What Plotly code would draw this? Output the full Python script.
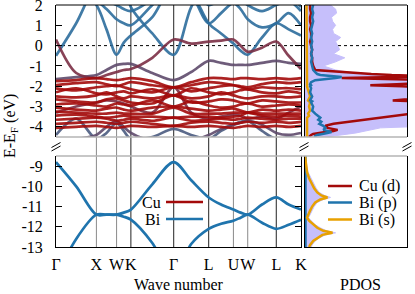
import plotly.graph_objects as go

# ---------------- data ----------------
K_LABELS = ["Γ", "X", "W", "K", "Γ", "L", "U", "W", "L", "K"]
K_TICKS = [0.0, 1.0, 1.5, 1.854, 2.914, 3.780, 4.392, 4.746, 5.453, 6.065]
K_LINE_STYLE = ["axis", "gray", "gray", "black", "black", "black", "gray", "gray", "black", "axis"]
K_PATH = [0.0, 0.5, 1.0, 1.25, 1.5, 1.677, 1.854, 2.384, 2.914, 3.347,
          3.780, 4.086, 4.392, 4.569, 4.746, 5.100, 5.453, 5.759, 6.065]

# upper energy window bands (eV)
BAND_BLUE_A = [-0.5, 1.1, 3.0, 3.2, 3.4, 3.2, 1.9, 0.6, -0.45, 1.9, 3.2, 3.4, 3.5, 3.5, 3.4, 3.3, 3.2, 2.6, 1.9]
BAND_BLUE_B = [3.4, 3.0, 2.0, 0.8, -0.45, 0.15, 0.5, 1.4, 3.0, 2.6, 1.1, 0.6, 0.1, -0.25, -0.45, 0.4, 1.1, 0.8, 0.5]
BAND_BLUE_C = [3.0, 2.5, 2.2, 1.8, 1.3, 1.1, 1.0, 2.0, 3.0, 2.5, 1.1, 1.6, 2.1, 1.8, 1.3, 0.9, 1.1, 1.6, 1.0]
BAND_BLUE_D = [3.2, 2.8, 2.4, 2.2, 2.0, 1.8, 1.7, 2.3, 3.3, 3.0, 2.0, 2.3, 2.6, 2.3, 2.0, 1.7, 2.0, 2.2, 1.7]
BAND_MIX_1 = [-1.65, -1.55, -1.45, -1.2, -0.95, -0.9, -0.9, -1.35, -1.7, -1.3, -0.75, -0.85, -0.95, -0.95, -0.95, -0.85, -0.75, -0.85, -0.9]
BAND_MIX_2 = [0.3, -1.35, -1.6, -1.45, -1.3, -1.2, -1.15, -0.6, 0.3, 0.1, 0.2, 0.25, 0.3, 0.0, -0.3, -0.1, 0.2, -0.5, -1.15]
BAND_MIX_3 = [-3.3, -3.0, -2.8, -2.7, -2.75, -2.85, -3.0, -3.3, -2.05, -3.3, -3.6, -3.5, -3.4, -3.45, -3.6, -3.5, -3.6, -3.3, -3.0]
BAND_LOW_1 = [-4.4, -3.6, -4.6, -4.3, -3.8, -4.2, -4.6, -4.5, -4.1, -4.4, -4.6, -4.2, -3.9, -3.75, -3.7, -4.2, -4.6, -4.5, -4.6]
BAND_LOW_2 = [-4.8, -4.6, -4.4, -4.0, -3.7, -4.0, -4.3, -4.7, -4.8, -4.7, -4.4, -4.1, -3.9, -3.8, -3.7, -3.9, -4.3, -4.4, -4.3]

CU_D_BANDS = [
    [-1.75, -1.7, -1.6, -1.65, -1.7, -1.65, -1.6, -1.75, -2.05, -1.8, -1.6, -1.6, -1.65, -1.6, -1.6, -1.65, -1.6, -1.65, -1.6],
    [-1.95, -1.85, -1.8, -1.9, -2.0, -1.9, -1.8, -1.95, -2.05, -1.95, -1.8, -1.85, -1.95, -2.0, -2.05, -1.9, -1.8, -1.85, -1.8],
    [-2.1, -2.2, -2.05, -2.0, -1.95, -2.05, -2.15, -2.3, -2.05, -2.25, -2.1, -2.0, -1.95, -2.05, -2.15, -2.05, -2.1, -2.1, -2.15],
    [-2.3, -2.1, -2.35, -2.4, -2.3, -2.25, -2.35, -2.15, -2.45, -2.1, -2.3, -2.4, -2.3, -2.2, -2.15, -2.3, -2.35, -2.25, -2.35],
    [-2.5, -2.55, -2.45, -2.3, -2.5, -2.6, -2.5, -2.6, -2.45, -2.6, -2.5, -2.3, -2.45, -2.55, -2.6, -2.5, -2.5, -2.55, -2.5],
    [-2.65, -2.75, -2.8, -2.65, -2.6, -2.7, -2.8, -2.85, -2.45, -2.8, -2.75, -2.65, -2.7, -2.8, -2.85, -2.7, -2.75, -2.8, -2.8],
    [-2.9, -2.85, -2.95, -3.0, -2.85, -2.9, -2.95, -2.7, -3.0, -2.75, -2.95, -3.05, -3.0, -2.9, -2.85, -3.0, -2.95, -2.9, -2.95],
    [-3.05, -3.15, -3.2, -3.1, -3.05, -3.15, -3.2, -3.05, -3.0, -3.1, -3.2, -3.15, -3.1, -3.2, -3.3, -3.15, -3.2, -3.15, -3.2],
    [-3.25, -3.3, -3.35, -3.35, -3.3, -3.35, -3.35, -3.35, -3.05, -3.35, -3.35, -3.35, -3.3, -3.3, -3.3, -3.35, -3.35, -3.35, -3.35],
    [-3.45, -3.4, -3.5, -3.55, -3.5, -3.45, -3.5, -3.5, -3.55, -3.5, -3.5, -3.55, -3.5, -3.45, -3.3, -3.45, -3.5, -3.45, -3.5],
    [-3.65, -3.6, -3.55, -3.6, -3.7, -3.65, -3.6, -3.7, -3.55, -3.7, -3.65, -3.6, -3.65, -3.6, -3.55, -3.6, -3.65, -3.6, -3.6],
    [-3.85, -3.8, -3.75, -3.8, -3.85, -3.8, -3.75, -3.85, -3.95, -3.8, -3.75, -3.8, -3.85, -3.8, -3.75, -3.8, -3.75, -3.8, -3.75],
    [-4.05, -4.0, -3.95, -4.0, -4.05, -4.0, -3.95, -4.0, -3.95, -4.0, -3.95, -4.0, -4.05, -4.0, -3.95, -4.0, -3.95, -4.0, -3.95],
]

# lower window: Bi s bands
BI_S_UPPER = [-8.8, -10.0, -11.4, -11.4, -11.4, -11.3, -11.15, -9.9, -8.8, -9.7, -10.55, -10.9, -11.15, -11.3, -11.4, -10.9, -10.55, -10.9, -11.15]
BI_S_LOWER = [-14.5, -12.6, -11.4, -11.4, -11.4, -11.5, -11.65, -12.8, -14.5, -12.85, -12.1, -11.85, -11.7, -11.55, -11.4, -11.8, -12.1, -11.9, -11.65]

# PDOS (arbitrary units, panel width = 1)
PDOS_E_TOP = [2.0, 1.8, 1.6, 1.4, 1.2, 1.0, 0.8, 0.6, 0.4, 0.2, 0.0, -0.2, -0.4, -0.6, -0.8, -1.0, -1.2, -1.3,
              -1.4, -1.45, -1.5, -1.55, -1.6, -1.7, -1.8, -1.9, -1.95, -2.0, -2.1, -2.3, -2.5, -2.7, -2.75, -2.8,
              -3.0, -3.2, -3.35, -3.45, -3.55, -3.65, -3.75, -3.85, -3.95, -4.05, -4.15, -4.2, -4.25, -4.3, -4.35,
              -4.4, -4.45, -4.5]
PDOS_TOTAL_TOP = [0.25, 0.3, 0.31, 0.26, 0.27, 0.3, 0.27, 0.28, 0.35, 0.3, 0.32, 0.34, 0.28, 0.39, 0.3, 0.18, 0.3, 0.42,
                  0.6, 0.9, 1.3, 1.3, 1.3, 1.3, 1.3, 1.3, 1.3, 1.3, 1.3, 1.3, 1.3, 1.3, 1.3, 1.3,
                  1.3, 1.3, 1.3, 1.3, 1.3, 1.3, 1.3, 1.3, 1.3, 0.74, 0.65, 0.62, 0.55, 0.5, 0.43,
                  0.35, 0.3, 0.2]
PDOS_CU_D_TOP = [0.05, 0.05, 0.06, 0.05, 0.05, 0.06, 0.05, 0.06, 0.06, 0.05, 0.06, 0.07, 0.06, 0.07, 0.07, 0.08, 0.1, 0.35,
                 0.65, 0.85, 1.3, 0.9, 0.36, 1.3, 1.3, 0.9, 0.64, 0.95, 1.3, 1.3, 1.3, 0.86, 1.3, 1.3,
                 1.3, 1.3, 1.05, 0.9, 0.75, 0.6, 0.45, 0.28, 0.2, 0.22, 0.32, 0.28, 0.2, 0.12, 0.08,
                 0.06, 0.05, 0.04]
PDOS_BI_P_TOP = [0.08, 0.07, 0.08, 0.07, 0.08, 0.07, 0.06, 0.07, 0.06, 0.07, 0.06, 0.07, 0.06, 0.07, 0.06, 0.07, 0.08, 0.1,
                 0.12, 0.15, 0.25, 0.36, 0.3, 0.1, 0.06, 0.05, 0.06, 0.05, 0.06, 0.05, 0.07, 0.05, 0.07, 0.06,
                 0.08, 0.07, 0.1, 0.12, 0.15, 0.13, 0.16, 0.14, 0.18, 0.2, 0.18, 0.22, 0.26, 0.22, 0.15,
                 0.12, 0.1, 0.1]
PDOS_BI_S_TOP = [0.015, 0.015, 0.015, 0.015, 0.015, 0.015, 0.015, 0.015, 0.015, 0.015, 0.015, 0.015, 0.015, 0.015, 0.015, 0.015, 0.015, 0.015,
                 0.015, 0.015, 0.015, 0.015, 0.015, 0.015, 0.015, 0.02, 0.02, 0.02, 0.025, 0.04, 0.05, 0.03, 0.04, 0.05,
                 0.04, 0.05, 0.03, 0.04, 0.02, 0.02, 0.02, 0.02, 0.02, 0.02, 0.02, 0.02, 0.02, 0.02, 0.02,
                 0.02, 0.02, 0.02]

PDOS_E_BOT = [-8.5, -9.0, -9.3, -9.6, -9.9, -10.1, -10.3, -10.45, -10.55, -10.65, -10.8, -11.0, -11.2, -11.4, -11.55,
              -11.7, -11.9, -12.05, -12.2, -12.3, -12.4, -12.55, -12.7, -12.9, -13.0]
PDOS_BI_S_BOT = [0.0, 0.01, 0.02, 0.04, 0.07, 0.09, 0.12, 0.16, 0.22, 0.15, 0.1, 0.07, 0.05, 0.03, 0.02,
                 0.04, 0.08, 0.12, 0.18, 0.27, 0.17, 0.12, 0.08, 0.05, 0.04]
PDOS_TOTAL_BOT = [0.0, 0.015, 0.03, 0.06, 0.09, 0.11, 0.14, 0.19, 0.25, 0.18, 0.12, 0.09, 0.07, 0.05, 0.035,
                  0.06, 0.1, 0.15, 0.21, 0.3, 0.2, 0.14, 0.1, 0.07, 0.06]
PDOS_BI_P_BOT = [0.005] * 25

Y_TICKS_TOP = [2, 1, 0, -1, -2, -3, -4]
Y_TICKTEXT_TOP = ["2", "1", "0", "-1", "-2", "-3", "-4"]
Y_TICKS_BOT = [-9, -10, -11, -12, -13]
Y_TICKTEXT_BOT = ["-9", "-10", "-11", "-12", "-13"]

# ---------------- style ----------------
FONT = "Liberation Serif, Times New Roman, DejaVu Serif, serif"
FS = 16
RED = "#a30a0a"
BLUE = "#2c6d9c"
BLUE_L = "#1f74ad"
PURPLE = "#5e4a6b"
PURPLE_R = "#7b2f45"
PURPLE_B = "#4a5b80"
ORANGE = "#e8a100"
LAV = "#c6bffb"
GRAY = "#b4b4b4"

W, H = 415, 294
ML, MR, MT, MB = 56, 8, 5, 47
PW, PH = W - ML - MR, H - MT - MB


def pxx(p):
    return (p - ML) / PW


def pxy(p):
    return (H - MB - p) / PH


BAND_X_DOM = [0, pxx(301)]
PDOS_X_DOM = [pxx(305), 1]
BOT_DOM = [0, pxy(156)]
TOP_DOM = [pxy(137), 1]

fig = go.Figure()

LW = 2.7
upper_sets = [
    (BAND_LOW_1, PURPLE_B), (BAND_LOW_2, PURPLE), (BAND_MIX_3, PURPLE_R),
    (BAND_BLUE_D, BLUE), (BAND_BLUE_C, BLUE), (BAND_BLUE_A, BLUE), (BAND_BLUE_B, BLUE),
    (BAND_MIX_1, PURPLE), (BAND_MIX_2, PURPLE_R),
]
for vals, col in upper_sets:
    fig.add_trace(go.Scatter(x=K_PATH, y=vals, mode="lines", xaxis="x", yaxis="y2",
                             line=dict(color=col, width=LW, shape="spline", smoothing=0.9),
                             opacity=0.9, showlegend=False, hoverinfo="skip"))
for vals in CU_D_BANDS:
    fig.add_trace(go.Scatter(x=K_PATH, y=vals, mode="lines", xaxis="x", yaxis="y2",
                             line=dict(color=RED, width=LW, shape="spline", smoothing=0.9),
                             opacity=0.9, showlegend=False, hoverinfo="skip"))
for vals in (BI_S_UPPER, BI_S_LOWER):
    fig.add_trace(go.Scatter(x=K_PATH, y=vals, mode="lines", xaxis="x", yaxis="y",
                             line=dict(color=BLUE_L, width=LW, shape="spline", smoothing=0.9),
                             showlegend=False, hoverinfo="skip"))

# PDOS
fig.add_trace(go.Scatter(x=PDOS_TOTAL_TOP, y=PDOS_E_TOP, mode="lines", fill="tozerox",
                         fillcolor=LAV, line=dict(color=LAV, width=1), xaxis="x2", yaxis="y4",
                         showlegend=False, hoverinfo="skip"))
fig.add_trace(go.Scatter(x=PDOS_TOTAL_BOT, y=PDOS_E_BOT, mode="lines", fill="tozerox",
                         fillcolor=LAV, line=dict(color=LAV, width=1), xaxis="x2", yaxis="y3",
                         showlegend=False, hoverinfo="skip"))
for xs, ys, col, ya in [
    (PDOS_BI_S_TOP, PDOS_E_TOP, ORANGE, "y4"),
    (PDOS_CU_D_TOP, PDOS_E_TOP, RED, "y4"),
    (PDOS_BI_P_TOP, PDOS_E_TOP, BLUE_L, "y4"),
    (PDOS_BI_P_BOT, PDOS_E_BOT, BLUE_L, "y3"),
    (PDOS_BI_S_BOT, PDOS_E_BOT, ORANGE, "y3"),
]:
    fig.add_trace(go.Scatter(x=xs, y=ys, mode="lines", line=dict(color=col, width=2.5),
                             xaxis="x2", yaxis=ya, showlegend=False, hoverinfo="skip"))

shapes = []
# high-symmetry vertical lines
for kv, st in zip(K_TICKS, K_LINE_STYLE):
    if st == "axis":
        continue
    shapes.append(dict(type="line", xref="x", yref="paper", x0=kv, x1=kv, y0=0, y1=1,
                       line=dict(color="#8a8a8a" if st == "gray" else "#222222", width=1), layer="below"))
# zero (Fermi) line
shapes.append(dict(type="line", xref="paper", yref="y2", x0=0, x1=1, y0=0, y1=0,
                   line=dict(color="black", width=1, dash="3px,3px"), layer="below"))
# gray break lines
for yy in (TOP_DOM[0], BOT_DOM[1]):
    shapes.append(dict(type="line", xref="paper", yref="paper", x0=0, x1=1, y0=yy, y1=yy,
                       line=dict(color=GRAY, width=1.5)))
# top frame
for x0, x1 in (BAND_X_DOM, PDOS_X_DOM):
    shapes.append(dict(type="line", xref="paper", yref="paper", x0=x0, x1=x1, y0=1, y1=1,
                       line=dict(color="black", width=1)))
# break marks
for cx in (56, 304, 407):
    for off in (0, 3.5):
        shapes.append(dict(type="line", xref="paper", yref="paper",
                           x0=pxx(cx - 4.5), y0=pxy(147.5 + off), x1=pxx(cx + 4.5), y1=pxy(142.5 + off),
                           line=dict(color="black", width=1)))
# legend lines
for y, col in ((202, RED), (219, BLUE_L)):
    shapes.append(dict(type="line", xref="paper", yref="paper", x0=pxx(166), x1=pxx(203),
                       y0=pxy(y), y1=pxy(y), line=dict(color=col, width=2.5)))
for y, col in ((186, RED), (202.5, BLUE_L), (219.5, ORANGE)):
    shapes.append(dict(type="line", xref="paper", yref="paper", x0=pxx(328), x1=pxx(352),
                       y0=pxy(y), y1=pxy(y), line=dict(color=col, width=2.5)))

ann = []
tf = dict(family=FONT, size=FS, color="black")
for txt, y in (("Cu", 202), ("Bi", 219)):
    ann.append(dict(text=txt, xref="paper", yref="paper", x=pxx(163), y=pxy(y), xanchor="right",
                    yanchor="middle", showarrow=False, font=tf))
for txt, y in (("Cu (d)", 186), ("Bi (p)", 202.5), ("Bi (s)", 219.5)):
    ann.append(dict(text=txt, xref="paper", yref="paper", x=pxx(357), y=pxy(y), xanchor="left",
                    yanchor="middle", showarrow=False, font=tf))
ann.append(dict(text="Wave number", xref="paper", yref="paper", x=pxx(178.5), y=pxy(284),
                xanchor="center", yanchor="middle", showarrow=False, font=tf))
ann.append(dict(text="PDOS", xref="paper", yref="paper", x=pxx(360), y=pxy(284),
                xanchor="center", yanchor="middle", showarrow=False, font=tf))
ann.append(dict(text="E-E<sub>F</sub> (eV)", xref="paper", yref="paper", x=pxx(10), y=pxy(126),
                xanchor="center", yanchor="middle", textangle=-90, showarrow=False, font=tf))

yax_common = dict(showgrid=False, zeroline=False, showline=True, linecolor="black", linewidth=1,
                  mirror="ticks", ticks="inside", ticklen=6, tickcolor="black", tickwidth=1,
                  tickfont=tf, ticklabelstandoff=9, automargin=False, ticklabeloverflow="allow")
pd_y_common = dict(showgrid=False, zeroline=False, showline=True, linecolor="black", linewidth=1,
                   mirror=True, ticks="", showticklabels=False, automargin=False)

fig.update_layout(
    width=W, height=H, autosize=False, margin=dict(l=ML, r=MR, t=MT, b=MB, pad=0),
    paper_bgcolor="white", plot_bgcolor="white",
    font=dict(family=FONT, size=FS, color="black"),
    xaxis=dict(domain=BAND_X_DOM, range=[0, K_TICKS[-1]], anchor="y", tickvals=K_TICKS, ticktext=K_LABELS,
               ticks="", tickangle=0, showgrid=False, zeroline=False, showline=True, linecolor="black",
               linewidth=1, tickfont=tf, ticklabelstandoff=3, automargin=False, ticklabeloverflow="allow"),
    yaxis=dict(domain=BOT_DOM, range=[-13, -8.5], anchor="x", tickvals=Y_TICKS_BOT,
               ticktext=Y_TICKTEXT_BOT, **yax_common),
    yaxis2=dict(domain=TOP_DOM, range=[-4.5, 2], anchor="x", tickvals=Y_TICKS_TOP,
                ticktext=Y_TICKTEXT_TOP, **yax_common),
    xaxis2=dict(domain=PDOS_X_DOM, range=[0, 1], anchor="y3", showticklabels=False, ticks="",
                showgrid=False, zeroline=False, showline=True, linecolor="black", linewidth=1,
                automargin=False),
    yaxis3=dict(domain=BOT_DOM, range=[-13, -8.5], anchor="x2", **pd_y_common),
    yaxis4=dict(domain=TOP_DOM, range=[-4.5, 2], anchor="x2", **pd_y_common),
    shapes=shapes, annotations=ann, showlegend=False,
)

fig.write_html("out.html", config={"displayModeBar": False, "staticPlot": True},
               post_script="document.body.style.margin='0px';document.body.style.padding='0px';")
